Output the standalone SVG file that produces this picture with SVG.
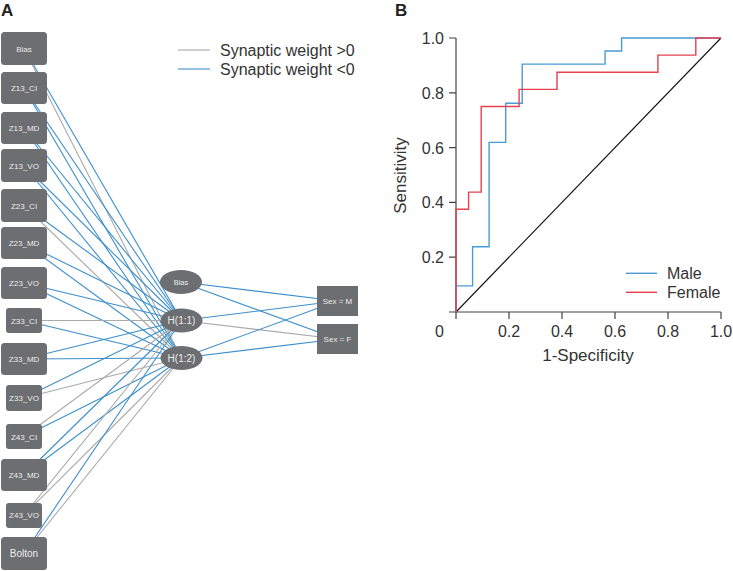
<svg xmlns="http://www.w3.org/2000/svg" width="733" height="571" viewBox="0 0 733 571">
<style>
text{font-family:"Liberation Sans",Arial,sans-serif}
.in{fill:#6d6e71}
.nt{fill:#ececec;text-anchor:middle}
.pos{stroke:#aaaaaa;stroke-width:1.1;fill:none}
.neg{stroke:#3d8fcb;stroke-width:1.1;fill:none}
.ax{stroke:#444;stroke-width:1.2;fill:none}
.tl{font-size:16px;fill:#333}
</style>
<rect width="733" height="571" fill="#fff"/>
<text x="1" y="16" font-size="17" font-weight="bold" fill="#222">A</text>
<text x="395" y="16" font-size="17" font-weight="bold" fill="#222">B</text>

<g id="legend-a">
<line x1="178" y1="50" x2="210" y2="50" class="pos"/>
<line x1="178" y1="69" x2="210" y2="69" class="neg"/>
<text x="220" y="56" class="tl">Synaptic weight &gt;0</text>
<text x="220" y="75" class="tl">Synaptic weight &lt;0</text>
</g>

<g id="connectors">
<line x1="24" y1="48.5" x2="181.5" y2="320.5" class="neg"/>
<line x1="24" y1="48.5" x2="181.5" y2="358" class="pos"/>
<line x1="24" y1="88" x2="181.5" y2="320.5" class="neg"/>
<line x1="24" y1="88" x2="181.5" y2="358" class="neg"/>
<line x1="24" y1="128" x2="181.5" y2="320.5" class="neg"/>
<line x1="24" y1="128" x2="181.5" y2="358" class="neg"/>
<line x1="24" y1="165.5" x2="181.5" y2="320.5" class="neg"/>
<line x1="24" y1="165.5" x2="181.5" y2="358" class="neg"/>
<line x1="24" y1="205.5" x2="181.5" y2="320.5" class="neg"/>
<line x1="24" y1="205.5" x2="181.5" y2="358" class="pos"/>
<line x1="24" y1="243" x2="181.5" y2="320.5" class="neg"/>
<line x1="24" y1="243" x2="181.5" y2="358" class="neg"/>
<line x1="24" y1="283" x2="181.5" y2="320.5" class="neg"/>
<line x1="24" y1="283" x2="181.5" y2="358" class="neg"/>
<line x1="24" y1="320.5" x2="181.5" y2="320.5" class="pos"/>
<line x1="24" y1="320.5" x2="181.5" y2="358" class="neg"/>
<line x1="24" y1="359" x2="181.5" y2="320.5" class="neg"/>
<line x1="24" y1="359" x2="181.5" y2="358" class="neg"/>
<line x1="24" y1="398" x2="181.5" y2="320.5" class="neg"/>
<line x1="24" y1="398" x2="181.5" y2="358" class="pos"/>
<line x1="24" y1="436.5" x2="181.5" y2="320.5" class="pos"/>
<line x1="24" y1="436.5" x2="181.5" y2="358" class="neg"/>
<line x1="24" y1="475" x2="181.5" y2="320.5" class="neg"/>
<line x1="24" y1="475" x2="181.5" y2="358" class="neg"/>
<line x1="24" y1="515" x2="181.5" y2="320.5" class="pos"/>
<line x1="24" y1="515" x2="181.5" y2="358" class="pos"/>
<line x1="24" y1="553.5" x2="181.5" y2="320.5" class="neg"/>
<line x1="24" y1="553.5" x2="181.5" y2="358" class="pos"/>
<line x1="181" y1="282" x2="337.5" y2="301" class="neg"/>
<line x1="181" y1="282" x2="337.5" y2="339" class="neg"/>
<line x1="181.5" y1="320.5" x2="337.5" y2="301" class="neg"/>
<line x1="181.5" y1="320.5" x2="337.5" y2="339" class="pos"/>
<line x1="181.5" y1="358" x2="337.5" y2="301" class="neg"/>
<line x1="181.5" y1="358" x2="337.5" y2="339" class="neg"/>
</g>

<g id="in-bias"><rect x="1" y="32" width="46" height="33" rx="3.5" class="in"/><text x="24" y="51.5" font-size="8" class="nt">Bias</text></g>
<g id="in-z13ci"><rect x="1" y="72" width="46" height="32" rx="3.5" class="in"/><text x="24" y="91" font-size="8" class="nt">Z13_CI</text></g>
<g id="in-z13md"><rect x="1" y="112" width="46" height="32" rx="3.5" class="in"/><text x="24" y="131" font-size="8" class="nt">Z13_MD</text></g>
<g id="in-z13vo"><rect x="1" y="149" width="46" height="33" rx="3.5" class="in"/><text x="24" y="168.5" font-size="8" class="nt">Z13_VO</text></g>
<g id="in-z23ci"><rect x="1" y="189" width="46" height="33" rx="3.5" class="in"/><text x="24" y="208.5" font-size="8" class="nt">Z23_CI</text></g>
<g id="in-z23md"><rect x="1" y="227" width="46" height="32" rx="3.5" class="in"/><text x="24" y="246" font-size="8" class="nt">Z23_MD</text></g>
<g id="in-z23vo"><rect x="1" y="267" width="46" height="32" rx="3.5" class="in"/><text x="24" y="286" font-size="8" class="nt">Z23_VO</text></g>
<g id="in-z33ci"><rect x="6" y="308" width="36" height="25" rx="3" class="in"/><text x="24" y="323.5" font-size="8" class="nt">Z33_CI</text></g>
<g id="in-z33md"><rect x="1" y="343" width="46" height="32" rx="3.5" class="in"/><text x="24" y="362" font-size="8" class="nt">Z33_MD</text></g>
<g id="in-z33vo"><rect x="6" y="385" width="36" height="26" rx="3" class="in"/><text x="24" y="401" font-size="8" class="nt">Z33_VO</text></g>
<g id="in-z43ci"><rect x="6" y="424" width="36" height="25" rx="3" class="in"/><text x="24" y="439.5" font-size="8" class="nt">Z43_CI</text></g>
<g id="in-z43md"><rect x="1" y="459" width="46" height="32" rx="3.5" class="in"/><text x="24" y="478" font-size="8" class="nt">Z43_MD</text></g>
<g id="in-z43vo"><rect x="6" y="503" width="36" height="25" rx="3" class="in"/><text x="24" y="518" font-size="8" class="nt">Z43_VO</text></g>
<g id="in-bolton"><rect x="1" y="537" width="46" height="33" rx="3.5" class="in"/><text x="24" y="557" font-size="10" class="nt">Bolton</text></g>

<g id="hid-bias"><ellipse cx="181" cy="282" rx="21" ry="12" class="in"/><text x="181" y="284.7" font-size="7.5" class="nt">Bias</text></g>
<g id="hid-h11"><ellipse cx="181.5" cy="320.5" rx="21" ry="12" class="in"/><text x="181.5" y="324" font-size="10" class="nt">H(1:1)</text></g>
<g id="hid-h12"><ellipse cx="181.5" cy="358" rx="21" ry="12" class="in"/><text x="181.5" y="361.5" font-size="10" class="nt">H(1:2)</text></g>

<g id="out-m"><rect x="317" y="286" width="41" height="30" class="in"/><text x="337.5" y="303.8" font-size="8" class="nt">Sex = M</text></g>
<g id="out-f"><rect x="317" y="324" width="41" height="30" class="in"/><text x="337.5" y="341.8" font-size="8" class="nt">Sex = F</text></g>

<g id="roc">
<path class="ax" d="M456 38V312H721M449 38H456M449 92.8H456M449 147.6H456M449 202.4H456M449 257.2H456M449 312H456M456 312V319M509 312V319M562 312V319M615 312V319M668 312V319M721 312V319"/>
<g class="tl" text-anchor="end">
<text x="444" y="44">1.0</text>
<text x="444" y="98.8">0.8</text>
<text x="444" y="153.6">0.6</text>
<text x="444" y="208.4">0.4</text>
<text x="444" y="263.2">0.2</text>
</g>
<g class="tl" text-anchor="middle">
<text x="439.5" y="337">0</text>
<text x="509" y="337">0.2</text>
<text x="562" y="337">0.4</text>
<text x="615" y="337">0.6</text>
<text x="668" y="337">0.8</text>
<text x="721" y="337">1.0</text>
</g>
<text x="588" y="361" font-size="17" fill="#333" text-anchor="middle">1-Specificity</text>
<text transform="translate(406,175.5) rotate(-90)" font-size="17" fill="#333" text-anchor="middle">Sensitivity</text>
<line x1="456" y1="312" x2="721" y2="38" stroke="#111" stroke-width="1.1"/>
<path fill="none" stroke="#4a9bd3" stroke-width="1.4" d="M456 312V285.9H472.6V246.8H489.1V142.4H505.7V103.2H522.2V64.1H605.1V51H621.6V38H721"/>
<path fill="none" stroke="#e5414e" stroke-width="1.4" d="M456 312V209.3H468.6V192.1H481.2V106.5H519.1V89.4H557V72.3H657.9V55.1H695.8V38H721"/>
<line x1="626" y1="273.3" x2="657" y2="273.3" stroke="#4a9bd3" stroke-width="1.4"/>
<line x1="626" y1="292.3" x2="657" y2="292.3" stroke="#e5414e" stroke-width="1.4"/>
<text x="667" y="279.3" class="tl">Male</text>
<text x="667" y="298.3" class="tl">Female</text>
</g>
</svg>
